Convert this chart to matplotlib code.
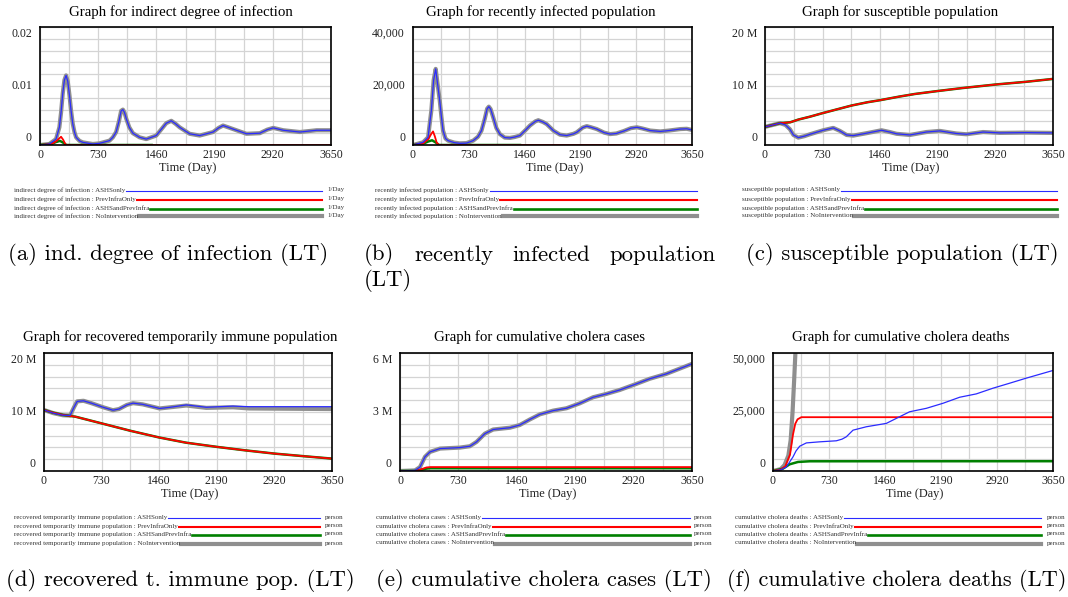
import matplotlib
matplotlib.use("Agg")
import matplotlib.pyplot as plt
import numpy as np
from matplotlib.lines import Line2D

# ---------------- data ----------------
scenarios = ["ASHSonly", "PrevInfraOnly", "ASHSandPrevInfra", "NoIntervention"]
x_ticks = [0, 730, 1460, 2190, 2920, 3650]

# (a) indirect degree of infection (1/Day)
a_t_main = [0, 117, 201, 243, 264, 285, 306, 327, 348, 369, 390, 411, 432, 453, 495, 536, 662, 746,
            872, 914, 955, 990, 1018, 1040, 1060, 1081, 1120, 1165, 1249, 1333, 1458, 1530, 1584,
            1647, 1700, 1752, 1877, 2003, 2171, 2240, 2296, 2360, 2422, 2590, 2757, 2850, 2925,
            3051, 3260, 3470, 3650]
a_v_main = [0, 0.00017, 0.001, 0.003, 0.0055, 0.0087, 0.011, 0.0118, 0.0108, 0.0085, 0.0058,
            0.0036, 0.0022, 0.0013, 0.0007, 0.00045, 0.00017, 0.00028, 0.00074, 0.0013, 0.0022,
            0.004, 0.0058, 0.006, 0.0055, 0.0045, 0.003, 0.002, 0.0013, 0.001, 0.0016, 0.0028,
            0.0037, 0.0041, 0.0036, 0.003, 0.0019, 0.0016, 0.0022, 0.0029, 0.0033, 0.003, 0.0027,
            0.0019, 0.002, 0.0026, 0.0029, 0.0025, 0.0022, 0.0025, 0.0025]
a_t_red = [0, 150, 200, 240, 264, 290, 320, 340, 3650]
a_v_red = [0, 0.0002, 0.0006, 0.0011, 0.0014, 0.0009, 0.0001, 0, 0]
a_t_green = [0, 150, 200, 250, 290, 330, 1400]
a_v_green = [0, 0.0002, 0.0005, 0.0007, 0.0004, 0, 0]

# (b) recently infected population (person)
b_t_main = [0, 131, 197, 240, 270, 297, 320, 350, 372, 393, 425, 459, 540, 612, 700, 787, 850, 896,
            940, 970, 992, 1015, 1049, 1090, 1136, 1200, 1268, 1330, 1399, 1470, 1530, 1600, 1639,
            1700, 1748, 1840, 1923, 2011, 2100, 2142, 2220, 2273, 2330, 2404, 2500, 2579, 2660,
            2754, 2850, 2929, 3000, 3103, 3235, 3350, 3497, 3580, 3650]
b_v_main = [0, 906, 2600, 11700, 22000, 25800, 21000, 15000, 9500, 4900, 2200, 1470, 800, 570, 650,
            1470, 2800, 4870, 9000, 12300, 13000, 12200, 9400, 5800, 3700, 2500, 2400, 2700, 3200,
            5000, 6600, 8000, 8400, 7800, 7100, 4800, 3500, 3200, 3800, 4300, 5900, 6400, 6000,
            5400, 4200, 3700, 3900, 4700, 5700, 6000, 5600, 4900, 4600, 4900, 5400, 5500, 5100]
b_t_red = [0, 130, 200, 240, 262, 285, 310, 340, 3650]
b_v_red = [0, 500, 2000, 3800, 4600, 3000, 800, 0, 0]
b_t_green = [0, 130, 200, 250, 300, 340, 1400]
b_v_green = [0, 400, 1200, 1600, 800, 0, 0]

# (c) susceptible population (person)
c_t_red = [0, 190, 320, 420, 570, 730, 900, 1100, 1300, 1460, 1700, 1900, 2190, 2500, 2920, 3300, 3650]
c_v_red = [3.07e6, 3.7e6, 3.85e6, 4.3e6, 4.8e6, 5.4e6, 6.0e6, 6.7e6, 7.25e6, 7.6e6, 8.2e6, 8.65e6,
           9.15e6, 9.65e6, 10.25e6, 10.7e6, 11.2e6]
c_t_main = [0, 100, 190, 260, 316, 360, 422, 500, 570, 738, 865, 949, 1034, 1118, 1287, 1477, 1580,
            1667, 1836, 2046, 2215, 2426, 2553, 2764, 2975, 3312, 3650]
c_v_main = [3.07e6, 3.4e6, 3.7e6, 3.4e6, 2.67e6, 1.7e6, 1.25e6, 1.5e6, 1.82e6, 2.5e6, 2.9e6, 2.39e6,
            1.7e6, 1.59e6, 2.0e6, 2.5e6, 2.2e6, 1.9e6, 1.7e6, 2.2e6, 2.39e6, 1.95e6, 1.82e6, 2.2e6,
            2.05e6, 2.1e6, 2.05e6]

# (d) recovered temporarily immune population (person)
d_t_red = [0, 110, 240, 400, 730, 1100, 1460, 1800, 2190, 2550, 2920, 3300, 3650]
d_v_red = [10.34e6, 9.9e6, 9.5e6, 9.2e6, 8.07e6, 6.8e6, 5.68e6, 4.8e6, 4.09e6, 3.5e6, 2.95e6,
           2.5e6, 2.1e6]
d_t_main = [0, 120, 240, 330, 380, 420, 500, 600, 750, 874, 950, 1050, 1128, 1250, 1466, 1600, 1804,
            2057, 2395, 2600, 3650]
d_v_blue = [10.34e6, 9.8e6, 9.45e6, 9.4e6, 10.8e6, 11.8e6, 11.9e6, 11.5e6, 10.8e6, 10.3e6, 10.5e6,
            11.2e6, 11.5e6, 11.3e6, 10.6e6, 10.8e6, 11.2e6, 10.8e6, 11.0e6, 10.9e6, 10.9e6]
d_v_gray = [10.34e6, 9.8e6, 9.45e6, 9.4e6, 10.8e6, 11.8e6, 11.9e6, 11.5e6, 10.8e6, 10.3e6, 10.5e6,
            11.2e6, 11.5e6, 11.3e6, 10.6e6, 10.8e6, 11.1e6, 10.7e6, 10.8e6, 10.6e6, 10.5e6]

# (e) cumulative cholera cases (person)
e_t_main = [0, 187, 250, 312, 375, 500, 749, 874, 957, 1061, 1165, 1373, 1498, 1623, 1748, 1915,
            2081, 2247, 2414, 2580, 2747, 2955, 3122, 3330, 3650]
e_v_main = [0, 0.03e6, 0.2e6, 0.72e6, 0.97e6, 1.14e6, 1.19e6, 1.26e6, 1.48e6, 1.9e6, 2.11e6, 2.2e6,
            2.34e6, 2.62e6, 2.88e6, 3.07e6, 3.19e6, 3.44e6, 3.75e6, 3.92e6, 4.12e6, 4.43e6, 4.69e6,
            4.94e6, 5.45e6]
e_t_red = [0, 200, 260, 330, 380, 3650]
e_v_red = [0, 0, 0.08e6, 0.18e6, 0.2e6, 0.2e6]
e_t_green = [0, 200, 260, 330, 380, 3650]
e_v_green = [0, 0, 0.05e6, 0.12e6, 0.14e6, 0.14e6]

# (f) cumulative cholera deaths (person)
f_t_blue = [0, 100, 174, 261, 300, 348, 435, 608, 826, 900, 956, 1043, 1217, 1477, 1608, 1781, 1999,
            2216, 2433, 2650, 2868, 3085, 3302, 3650]
f_v_blue = [0, 500, 1700, 6000, 8500, 10500, 11900, 12360, 12800, 13500, 14500, 17300, 18750, 20170,
            22300, 25100, 26560, 28700, 31250, 32670, 35090, 37200, 39350, 42600]
f_t_red = [0, 100, 160, 222, 261, 290, 320, 370, 3650]
f_v_red = [0, 600, 2000, 7000, 15500, 20000, 21900, 22800, 22800]
f_t_green = [0, 130, 217, 326, 478, 3650]
f_v_green = [0, 1000, 2840, 3835, 4120, 4150]
f_t_gray = [0, 100, 150, 200, 230, 255, 275, 292, 320]
f_v_gray = [0, 800, 2500, 6500, 13000, 25000, 38000, 50000, 72000]

# ---------------- styling ----------------
W, H = 1068, 597
SERIF = "Liberation Serif"
CAPFONT = "cmr10"
COL = {"blue": "#2b2bff", "red": "#ff0000", "green": "#008000", "gray": "#8f8f8f"}
LW = {"blue": 0.9, "red": 1.3, "green": 1.8, "gray": 3.0}
ZO = {"gray": 2, "green": 3, "red": 4, "blue": 5}
scen_color = ["blue", "red", "green", "gray"]

fig = plt.figure(figsize=(W / 100, H / 100), dpi=100)
fig.patch.set_facecolor("white")


def fx(x):
    return x / W


def fy(y):
    return 1 - y / H


def ftext(x, y, s, **kw):
    return fig.text(fx(x), fy(y), s, **kw)


panels = [
    dict(box=(40, 27, 331, 145), title="Graph for indirect degree of infection", tcx=181, ty=12,
         ymax=0.02, ylabels=["0", "0.01", "0.02"],
         lines=[("gray", a_t_main, a_v_main), ("green", a_t_green, a_v_green),
                ("red", a_t_red, a_v_red), ("blue", a_t_main, a_v_main)],
         var="indirect degree of infection", unit="1/Day", lx0=14, lx1=322, lux=327,
         rows=[190, 199, 208, 216]),
    dict(box=(413, 27, 692, 145), title="Graph for recently infected population", tcx=541, ty=12,
         ymax=40000, ylabels=["0", "20,000", "40,000"],
         lines=[("gray", b_t_main, b_v_main), ("green", b_t_green, b_v_green),
                ("red", b_t_red, b_v_red), ("blue", b_t_main, b_v_main)],
         var="recently infected population", unit="person", lx0=375, lx1=697, lux=None,
         rows=[190, 199, 208, 216]),
    dict(box=(765, 27, 1053, 145), title="Graph for susceptible population", tcx=900, ty=12,
         ymax=20e6, ylabels=["0", "10 M", "20 M"],
         lines=[("gray", c_t_main, c_v_main), ("green", c_t_red, c_v_red),
                ("red", c_t_red, c_v_red), ("blue", c_t_main, c_v_main)],
         var="susceptible population", unit="person", lx0=742, lx1=1057, lux=None,
         rows=[190, 199, 208, 216]),
    dict(box=(44, 353, 332, 471), title="Graph for recovered temporarily immune population", tcx=180,
         ty=337, ymax=20e6, ylabels=["0", "10 M", "20 M"],
         lines=[("gray", d_t_main, d_v_gray), ("green", d_t_red, d_v_red),
                ("red", d_t_red, d_v_red), ("blue", d_t_main, d_v_blue)],
         var="recovered temporarily immune population", unit="person", lx0=14, lx1=320, lux=325,
         rows=[517, 526, 534, 543]),
    dict(box=(400, 353, 692, 471), title="Graph for cumulative cholera cases", tcx=540, ty=337,
         ymax=6e6, ylabels=["0", "3 M", "6 M"],
         lines=[("gray", e_t_main, e_v_main), ("green", e_t_green, e_v_green),
                ("red", e_t_red, e_v_red), ("blue", e_t_main, e_v_main)],
         var="cumulative cholera cases", unit="person", lx0=376, lx1=690, lux=694,
         rows=[517, 526, 534, 543]),
    dict(box=(773, 353, 1053, 471), title="Graph for cumulative cholera deaths", tcx=901, ty=337,
         ymax=50000, ylabels=["0", "25,000", "50,000"],
         lines=[("gray", f_t_gray, f_v_gray), ("green", f_t_green, f_v_green),
                ("red", f_t_red, f_v_red), ("blue", f_t_blue, f_v_blue)],
         var="cumulative cholera deaths", unit="person", lx0=735, lx1=1041, lux=1047,
         rows=[517, 526, 534, 543]),
]

TICK_FS = 8.5
legend_texts = []
for p in panels:
    l, t, r, b = p["box"]
    ax = fig.add_axes([fx(l), fy(b), (r - l) / W, (b - t) / H])
    for key, tt, vv in p["lines"]:
        ax.plot(tt, vv, color=COL[key], lw=LW[key], zorder=ZO[key], solid_joinstyle="round")
    ax.set_xlim(0, 3650)
    ax.set_ylim(0, p["ymax"])
    ax.set_xticks(np.arange(0, 3651, 365))
    ax.set_yticks(np.linspace(0, p["ymax"], 11))
    ax.tick_params(length=0, labelbottom=False, labelleft=False)
    ax.grid(True, color="#d4d4d4", lw=0.9)
    ax.set_axisbelow(True)
    for s in ax.spines.values():
        s.set_color("black")
        s.set_linewidth(1.2)
        s.set_zorder(10)
    # title
    ftext(p["tcx"], p["ty"], p["title"], ha="center", va="center", family=SERIF, fontsize=10.7)
    # x tick labels
    for xv in x_ticks:
        xp = l + (r - l) * xv / 3650
        ftext(xp, b + 10, str(xv), ha="center", va="center", family=SERIF, fontsize=TICK_FS,
              color="#222222")
    ftext((l + r) / 2 + 2, b + 23, "Time (Day)", ha="center", va="center", family=SERIF,
          fontsize=8.9, color="#222222")
    # y tick labels (Vensim-style: top/bottom kept inside)
    ylab = p["ylabels"]
    ftext(l - 8, b - 1, ylab[0], ha="right", va="bottom", family=SERIF, fontsize=TICK_FS,
          color="#222222")
    ftext(l - 8, (t + b) / 2, ylab[1], ha="right", va="center", family=SERIF, fontsize=TICK_FS,
          color="#222222")
    ftext(l - 8, t + 1, ylab[2], ha="right", va="top", family=SERIF, fontsize=TICK_FS,
          color="#222222")
    # legend
    for i, sc in enumerate(scenarios):
        ty_ = p["rows"][i]
        txt = ftext(p["lx0"], ty_, f"{p['var']} : {sc}", ha="left", va="center", family=SERIF,
                    fontsize=5.0, color="#333333")
        legend_texts.append((txt, p["lx1"], ty_, scen_color[i]))
        if p["lux"] is not None:
            ftext(p["lux"], ty_, p["unit"], ha="left", va="center", family=SERIF, fontsize=5.0,
                  color="#333333")

fig.canvas.draw()
renderer = fig.canvas.get_renderer()
for txt, x1, y_, key in legend_texts:
    bb = txt.get_window_extent(renderer)
    xstart = bb.x1 + 1
    fig.add_artist(Line2D([xstart / W, fx(x1)], [fy(y_ + 0.5), fy(y_ + 0.5)], color=COL[key],
                          lw={"blue": 0.8, "red": 1.5, "green": 1.9, "gray": 3.0}[key]))

# captions (sub-figure labels)
CAPSIZE = 16.4
ftext(8, 255, "(a) ind. degree of infection (LT)", ha="left", va="center", family=CAPFONT,
      fontsize=CAPSIZE)
ftext(746, 255, "(c) susceptible population (LT)", ha="left", va="center", family=CAPFONT,
      fontsize=CAPSIZE)
ftext(6, 580, "(d) recovered t. immune pop. (LT)", ha="left", va="center", family=CAPFONT,
      fontsize=CAPSIZE)
ftext(376, 580, "(e) cumulative cholera cases (LT)", ha="left", va="center", family=CAPFONT,
      fontsize=CAPSIZE)
ftext(1066, 580, "(f) cumulative cholera deaths (LT)", ha="right", va="center", family=CAPFONT,
      fontsize=16.0)
# justified caption (b)
words_b = ["(b)", "recently", "infected", "population"]
xa, xb = 364, 716
wt = [ftext(0, 255, w, ha="left", va="center", family=CAPFONT, fontsize=CAPSIZE) for w in words_b]
fig.canvas.draw()
widths = [w.get_window_extent(renderer).width for w in wt]
gap = (xb - xa - sum(widths)) / (len(wt) - 1)
xc = xa
for w, wd in zip(wt, widths):
    w.set_x(fx(xc))
    xc += wd + gap
ftext(364, 280, "(LT)", ha="left", va="center", family=CAPFONT, fontsize=CAPSIZE)

fig.savefig("out.png", dpi=100, facecolor="white")
